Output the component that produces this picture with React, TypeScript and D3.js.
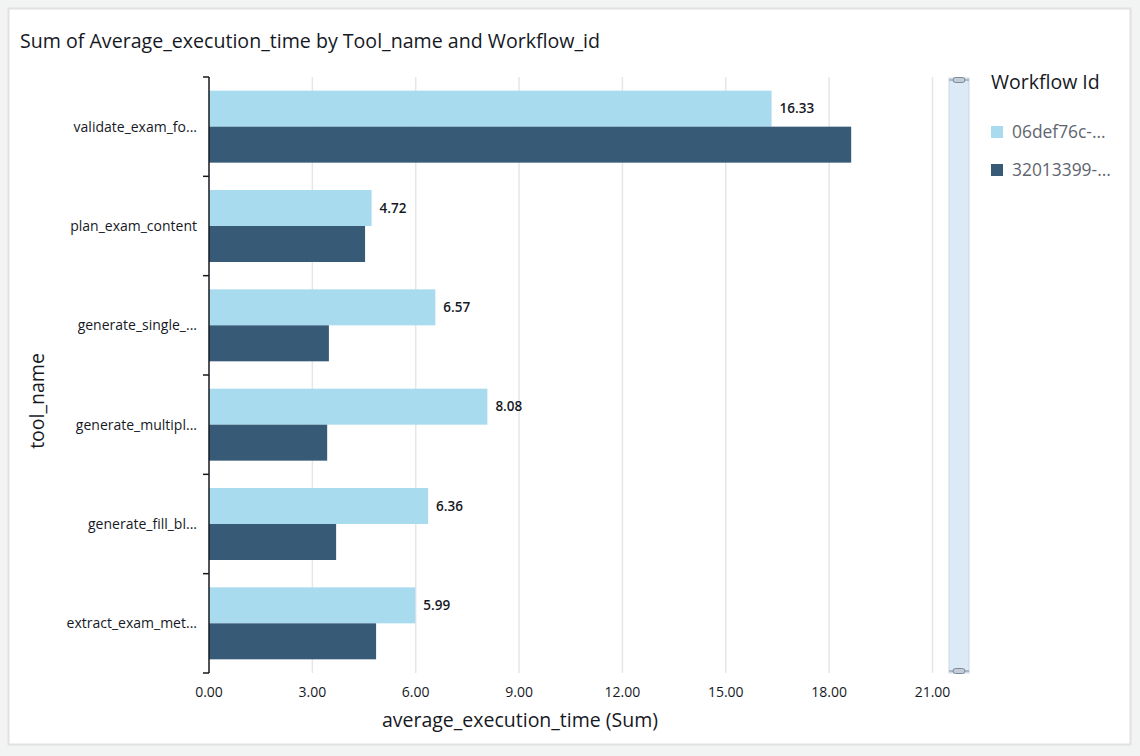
import React, { useEffect, useRef } from 'react';
import * as d3 from 'd3';

// tool names top to bottom, as shown (truncated)
const toolNames = [
  'validate_exam_fo...',
  'plan_exam_content',
  'generate_single_...',
  'generate_multipl...',
  'generate_fill_bl...',
  'extract_exam_met...',
];

const workflowIds = ['06def76c-...', '32013399-...'];

// Sum of average_execution_time per workflow
const workflowA = [16.33, 4.72, 6.57, 8.08, 6.36, 5.99];
const workflowB = [18.64, 4.53, 3.48, 3.43, 3.69, 4.85];

const xTicks = [0, 3, 6, 9, 12, 15, 18, 21];

const colors = ['#a9dbef', '#375b77'];

const FONT = '"Open Sans", "Noto Sans", sans-serif';

const App: React.FC = () => {
  const svgRef = useRef<SVGSVGElement>(null);

  useEffect(() => {
    document.body.style.margin = '0';
    const width = 1140;
    const height = 756;
    const svg = d3.select(svgRef.current);
    svg.selectAll('*').remove();
    svg.attr('width', width).attr('height', height).style('font-family', FONT);

    // page + card
    svg.append('rect').attr('width', width).attr('height', height).attr('fill', '#f2f3f3');
    svg.append('rect')
      .attr('x', 8.5).attr('y', 8.5)
      .attr('width', 1122).attr('height', 736)
      .attr('fill', '#ffffff')
      .attr('stroke', '#e1e1e1')
      .attr('stroke-width', 2);

    svg.append('text')
      .attr('x', 20)
      .attr('y', 48)
      .attr('font-size', 19.6)
      .attr('fill', '#16191f')
      .text('Sum of Average_execution_time by Tool_name and Workflow_id');

    const x = d3.scaleLinear().domain([0, 21]).range([209, 932.5]);
    const y0 = d3.scaleBand().domain(toolNames).range([77, 673]).padding(0);
    const y1 = d3.scaleBand().domain(workflowIds).range([0, y0.bandwidth()]).paddingInner(0).paddingOuter(0.38);

    const g = svg.append('g');

    // vertical grid
    g.append('g')
      .selectAll('line')
      .data(xTicks.slice(1))
      .join('line')
      .attr('x1', d => x(d)).attr('x2', d => x(d))
      .attr('y1', 77).attr('y2', 673)
      .attr('stroke', '#e6e6e6')
      .attr('stroke-width', 1.5);

    // bars
    const series = [workflowA, workflowB];
    toolNames.forEach((name, i) => {
      const gy = g.append('g').attr('transform', `translate(0,${y0(name)})`);
      workflowIds.forEach((id, s) => {
        gy.append('rect')
          .attr('x', x(0))
          .attr('y', y1(id)!)
          .attr('width', x(series[s][i]) - x(0))
          .attr('height', y1.bandwidth())
          .attr('fill', colors[s]);
      });
      gy.append('text')
        .attr('x', x(workflowA[i]) + 8)
        .attr('y', y1(workflowIds[0])! + y1.bandwidth() / 2)
        .attr('dy', '0.35em')
        .attr('font-size', 13.5)
        .attr('font-weight', 600)
        .attr('fill', '#16191f')
        .text(workflowA[i].toFixed(2));
    });

    // y axis
    const yAxis = g.append('g');
    yAxis.append('line')
      .attr('x1', 209).attr('x2', 209)
      .attr('y1', 77).attr('y2', 673)
      .attr('stroke', '#16191f').attr('stroke-width', 1.5);
    const bounds = toolNames.map(n => y0(n)!).concat([673]);
    yAxis.selectAll('line.tick')
      .data(bounds)
      .join('line')
      .attr('class', 'tick')
      .attr('x1', 203).attr('x2', 209)
      .attr('y1', d => d).attr('y2', d => d)
      .attr('stroke', '#16191f').attr('stroke-width', 1.5);
    yAxis.selectAll('text')
      .data(toolNames)
      .join('text')
      .attr('x', 197)
      .attr('y', d => y0(d)! + y0.bandwidth() / 2)
      .attr('dy', '0.35em')
      .attr('text-anchor', 'end')
      .attr('font-size', 14)
      .attr('fill', '#16191f')
      .text(d => d);

    // x tick labels
    g.append('g')
      .selectAll('text')
      .data(xTicks)
      .join('text')
      .attr('x', d => x(d))
      .attr('y', 692)
      .attr('dy', '0.35em')
      .attr('text-anchor', 'middle')
      .attr('font-size', 14)
      .attr('fill', '#16191f')
      .text(d => d.toFixed(2));

    // axis titles
    svg.append('text')
      .attr('x', 520).attr('y', 720)
      .attr('dy', '0.35em')
      .attr('text-anchor', 'middle')
      .attr('font-size', 19.5)
      .attr('fill', '#16191f')
      .text('average_execution_time (Sum)');
    svg.append('text')
      .attr('transform', 'translate(37,401) rotate(-90)')
      .attr('dy', '0.35em')
      .attr('text-anchor', 'middle')
      .attr('font-size', 19.5)
      .attr('fill', '#16191f')
      .text('tool_name');

    // scroll track beside the legend
    const sb = svg.append('g');
    sb.append('rect')
      .attr('x', 949).attr('y', 78)
      .attr('width', 20).attr('height', 595)
      .attr('fill', '#dbeaf6')
      .attr('stroke', '#c9d7e3');
    [80, 671].forEach(cy => {
      sb.append('line')
        .attr('x1', 949).attr('x2', 969)
        .attr('y1', cy).attr('y2', cy)
        .attr('stroke', '#8d99a8').attr('stroke-width', 1.2);
      sb.append('rect')
        .attr('x', 953).attr('y', cy - 2.5)
        .attr('width', 12).attr('height', 5)
        .attr('rx', 2.5)
        .attr('fill', '#c3ccd6')
        .attr('stroke', '#7d8998');
    });

    // legend
    const lg = svg.append('g');
    lg.append('text')
      .attr('x', 991).attr('y', 82)
      .attr('dy', '0.35em')
      .attr('font-size', 19.5)
      .attr('fill', '#16191f')
      .text('Workflow Id');
    workflowIds.forEach((id, i) => {
      const cy = 132 + i * 38;
      lg.append('rect')
        .attr('x', 991).attr('y', cy - 6)
        .attr('width', 12).attr('height', 12)
        .attr('fill', colors[i]);
      lg.append('text')
        .attr('x', 1012).attr('y', cy)
        .attr('dy', '0.35em')
        .attr('font-size', 17.4)
        .attr('fill', '#5f6670')
        .text(id);
    });
  }, []);

  return <svg ref={svgRef}></svg>;
};

export default App;
